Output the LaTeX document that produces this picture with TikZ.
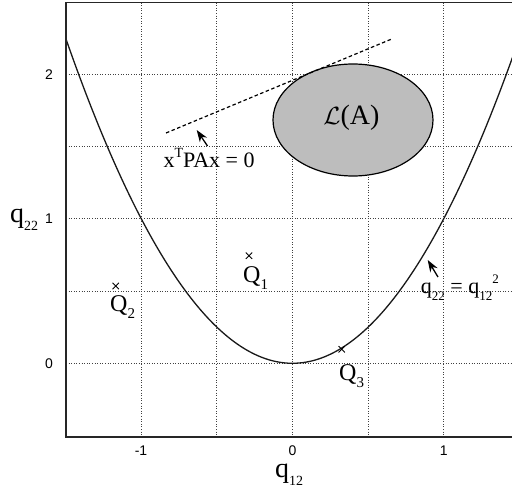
\documentclass[tikz,border=0pt]{standalone}
\usepackage{fontspec}
\setmainfont{Liberation Serif}
\newfontfamily\ticksf{Liberation Sans}
\usetikzlibrary{arrows.meta,shapes.geometric}
\newcommand{\lowsub}[3][7.5pt]{\raisebox{-#1}{\fontsize{#2}{#2}\selectfont #3}}
\newcommand{\highsup}[2]{\raisebox{1.0ex}{\fontsize{#1}{#1}\selectfont #2}}
\tikzset{
  frame/.style={draw=black!85, line width=1.4pt},
  gridline/.style={draw=black!75, line width=0.9pt, dash pattern=on 1pt off 1.6pt},
  curve/.style={draw=black!90, line width=1.3pt},
  tick/.style={font=\ticksf\fontsize{14}{14}\selectfont, inner sep=0pt},
  lbl/.style={font=\fontsize{22}{22}\selectfont, inner sep=0pt, anchor=base west},
  axlbl/.style={font=\fontsize{28}{28}\selectfont, inner sep=0pt, anchor=base west},
  qlbl/.style={font=\fontsize{24}{24}\selectfont, inner sep=0pt, anchor=base west},
  pointer/.style={draw=black, line width=1.3pt, -{Stealth[length=12pt,width=8.5pt]}},
  cross/.style={draw=black, line width=0.9pt},
}
\begin{document}
\begin{tikzpicture}[x=1pt,y=-1pt]
\useasboundingbox (0,0) rectangle (512,494);
% grid
\foreach \gx in {141,216.9,292.5,368.1,443.7}
  \draw[gridline] (\gx,2.7) -- (\gx,437);
\foreach \gy in {363.3,291.05,218.8,146.55,74.3}
  \draw[gridline] (66,\gy) -- (512,\gy);
% ellipse
\node[draw=black, line width=1.2pt, fill=black!26, ellipse, minimum width=160pt, minimum height=112pt, inner sep=0pt] (LA) at (353,120) {};
\node[font=\fontsize{28}{28}\selectfont, inner sep=0pt] (LAt) at (351.5,118) {$\mathcal{L}$(A)};
% dashed line
\coordinate (d1) at (166,133);
\coordinate (d2) at (391.7,39);
\draw[draw=black, line width=1.2pt, dash pattern=on 3.5pt off 2.5pt] (d1) -- (d2);
% parabola
\draw[curve] plot[domain=-1.5:1.46, samples=120, smooth] ({292.5+151.2*\x},{363.3-144.5*\x*\x});
% frame
\draw[frame] (66,2.7) rectangle (520,437);
% ticks
\node[tick] (ty2) at (49,74.3) {2};
\node[tick] (ty1) at (49,218.8) {1};
\node[tick] (ty0) at (49,363.3) {0};
\node[tick] (txm1) at (141,451) {-1};
\node[tick] (tx0) at (292.5,451) {0};
\node[tick] (tx1) at (443.7,451) {1};
% axis labels
\node[axlbl] (ylab) at (10,223) {q\lowsub[8pt]{14}{22}};
\node[axlbl] (xlab) at (275,478) {q\lowsub[8pt]{14}{12}};
% annotations
\node[lbl] (xpax) at (163.3,167.3) {x\highsup{14}{T}PAx = 0};
\coordinate (a1t) at (207.5,146);
\coordinate (a1h) at (196.7,130);
\draw[pointer] (a1t) -- (a1h);
\node[lbl] (qeq) at (420.7,293.5) {q\lowsub[7.5pt]{13}{22} = q\lowsub[7.5pt]{13}{12}\highsup{13}{2}};
\coordinate (a2t) at (438,277);
\coordinate (a2h) at (427.7,260);
\draw[pointer] (a2t) -- (a2h);
% points
\foreach \n/\px/\py in {c1/249/255.7, c2/115.7/286, c3/341.7/349.3}{
  \coordinate (\n) at (\px,\py);
  \draw[cross] ([shift={(-3.2,-3.2)}]\n) -- ([shift={(3.2,3.2)}]\n);
  \draw[cross] ([shift={(-3.2,3.2)}]\n) -- ([shift={(3.2,-3.2)}]\n);
}
\node[qlbl] (Q1) at (243,282.5) {Q\lowsub[7pt]{15}{1}};
\node[qlbl] (Q2) at (110,312) {Q\lowsub[7pt]{15}{2}};
\node[qlbl] (Q3) at (339,380.5) {Q\lowsub[7pt]{15}{3}};
\end{tikzpicture}
\end{document}
